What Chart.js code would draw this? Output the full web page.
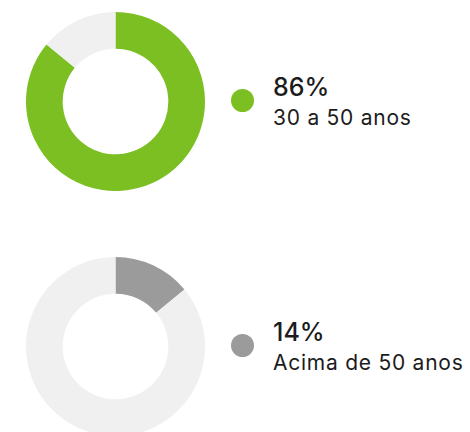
<!DOCTYPE html>
<html>
<head>
<meta charset="utf-8">
<script src="https://cdn.jsdelivr.net/npm/chart.js@4"></script>
<style>
  html, body { margin: 0; padding: 0; background: #fff; }
  body { width: 470px; height: 432px; position: relative; overflow: hidden; font-family: "Inter", sans-serif; color: #1c1c1c; }
  .donut { position: absolute; left: 26px; width: 179px; height: 179px; }
  .legend { position: absolute; left: 231px; }
  .dot { position: absolute; left: 0; top: 0; width: 23px; height: 23px; border-radius: 50%; }
  .pct { position: absolute; left: 42px; top: -14px; font-size: 25px; font-weight: 500; white-space: nowrap; line-height: 1; }
  .lbl { position: absolute; left: 42px; top: 18px; font-size: 21px; font-weight: 400; letter-spacing: 0.75px; white-space: nowrap; line-height: 1; }
</style>
</head>
<body>
<div class="donut" style="top:11.5px"><canvas id="c1"></canvas></div>
<div class="donut" style="top:256.5px"><canvas id="c2"></canvas></div>
<div class="legend" id="leg1" style="top:89px"></div>
<div class="legend" id="leg2" style="top:334px"></div>
<script>
const labels = ["30 a 50 anos", "Acima de 50 anos"];
const values = [86, 14];
const colors = ["#7bbf22", "#9b9b9b"];
const restColor = "#f0f0f0";

function drawDonut(canvasName, i)
{
  const rest = 100 - values[i];
  new Chart(document.getElementById(canvasName), {
    type: 'doughnut',
    data: {
      labels: [labels[i], ''],
      datasets: [{
        data: [values[i], rest],
        backgroundColor: [colors[i], restColor],
        borderWidth: 0,
        hoverOffset: 0
      }]
    },
    options: {
      responsive: true,
      maintainAspectRatio: false,
      animation: false,
      cutout: '59%',
      layout: { padding: 0 },
      plugins: { legend: { display: false }, tooltip: { enabled: false } }
    }
  });
}

function drawLegend(divName, i)
{
  const d = document.getElementById(divName);
  d.innerHTML =
    '<div class="dot" style="background:' + colors[i] + '"></div>' +
    '<div class="pct">' + values[i] + '%</div>' +
    '<div class="lbl">' + labels[i] + '</div>';
}

drawDonut('c1', 0);
drawDonut('c2', 1);
drawLegend('leg1', 0);
drawLegend('leg2', 1);
</script>
</body>
</html>
